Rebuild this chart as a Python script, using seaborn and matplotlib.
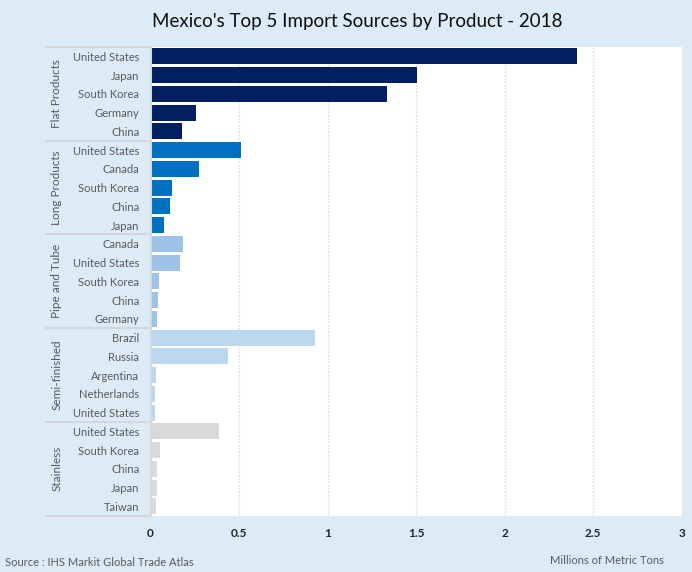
import matplotlib
matplotlib.use("Agg")
import matplotlib.pyplot as plt
import matplotlib.transforms as mtransforms
import seaborn as sns
import pandas as pd

# ---------------- data ----------------
groups = ["Flat Products", "Long Products", "Pipe and Tube", "Semi-finished", "Stainless"]

flat_countries = ["United States", "Japan", "South Korea", "Germany", "China"]
flat_values = [2.41, 1.505, 1.335, 0.257, 0.178]

long_countries = ["United States", "Canada", "South Korea", "China", "Japan"]
long_values = [0.511, 0.274, 0.121, 0.110, 0.076]

pipe_countries = ["Canada", "United States", "South Korea", "China", "Germany"]
pipe_values = [0.184, 0.167, 0.048, 0.042, 0.037]

semi_countries = ["Brazil", "Russia", "Argentina", "Netherlands", "United States"]
semi_values = [0.929, 0.438, 0.031, 0.025, 0.025]

stainless_countries = ["United States", "South Korea", "China", "Japan", "Taiwan"]
stainless_values = [0.387, 0.054, 0.037, 0.037, 0.031]

group_colors = ["#002060", "#0070C0", "#9DC3E6", "#BDD7EE", "#D9D9D9"]

x_ticks = [0, 0.5, 1, 1.5, 2, 2.5, 3]
x_tick_labels = ["0", "0.5", "1", "1.5", "2", "2.5", "3"]

title = "Mexico's Top 5 Import Sources by Product - 2018"
source = "Source : IHS Markit Global Trade Atlas"
unit = "Millions of Metric Tons"

# ---------------- table ----------------
all_countries = [flat_countries, long_countries, pipe_countries, semi_countries, stainless_countries]
all_values = [flat_values, long_values, pipe_values, semi_values, stainless_values]
rows = []
for g, cs, vs in zip(groups, all_countries, all_values):
    for c, v in zip(cs, vs):
        rows.append({"group": g, "country": c, "row": f"{g}|{c}", "value": v})
df = pd.DataFrame(rows)

# ---------------- style ----------------
BG = "#DDEBF7"
plt.rcParams["font.family"] = ["Lato", "DejaVu Sans"]

fig = plt.figure(figsize=(6.92, 5.72), dpi=100, facecolor=BG)
ax = fig.add_axes([150.5 / 692, 1 - 515.7 / 572, (681.7 - 150.5) / 692, (515.7 - 47) / 572])
ax.set_facecolor("white")

sns.barplot(data=df, x="value", y="row", hue="group", palette=group_colors,
            hue_order=groups, dodge=False, width=0.85, saturation=1,
            legend=False, ax=ax, orient="h")

ax.set_xlim(0, 3)
ax.set_ylim(len(df) - 0.5, -0.5)
ax.set_xlabel("")
ax.set_ylabel("")

ax.set_xticks(x_ticks)
ax.set_xticklabels(x_tick_labels, fontsize=8.5, color="#262626", fontweight="bold")
ax.set_yticks(range(len(df)))
ax.set_yticklabels(df["country"], fontsize=8, color="#595959")
ax.tick_params(axis="both", length=0)
ax.tick_params(axis="y", pad=8)
ax.tick_params(axis="x", pad=9)

ax.grid(axis="x", color="#DCDCDC", linestyle=(0, (1.2, 1.2)), linewidth=1)
ax.grid(axis="y", visible=False)
ax.set_axisbelow(True)

for s in ["top", "right", "bottom"]:
    ax.spines[s].set_visible(False)
ax.spines["left"].set_color("#D3D9E0")
ax.spines["left"].set_linewidth(1.5)

# group separators & group labels in label panel
trans = mtransforms.blended_transform_factory(ax.transAxes, ax.transData)
x_left = (45 - 150.5) / (681.7 - 150.5)
boundaries = [-0.5]
pos = -0.5
for cs in all_countries:
    pos += len(cs)
    boundaries.append(pos)
for b in boundaries:
    ax.plot([x_left, 0], [b, b], transform=trans, color="#D3D6DA",
            linewidth=1.5, clip_on=False, solid_capstyle="butt")

start = 0
for g, cs in zip(groups, all_countries):
    center = start + (len(cs) - 1) / 2
    ax.text((57 - 150.5) / (681.7 - 150.5), center, g, transform=trans,
            rotation=90, ha="center", va="center", fontsize=8.5, color="#595959")
    start += len(cs)

fig.text(357 / 692, 1 - 21 / 572, title, ha="center", va="center",
         fontsize=13.5, color="#0D0D0D")
fig.text(5 / 692, 1 - 563 / 572, source, ha="left", va="center",
         fontsize=8, color="#595959")
fig.text(664 / 692, 1 - 561 / 572, unit, ha="right", va="center",
         fontsize=8, color="#595959")

fig.savefig("out.png", dpi=100, facecolor=BG)
